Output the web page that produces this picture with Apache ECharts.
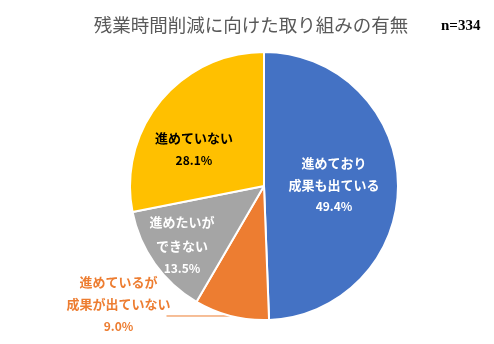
<!DOCTYPE html>
<html>
<head>
<meta charset="utf-8">
<script src="https://cdn.jsdelivr.net/npm/echarts@6/dist/echarts.min.js"></script>
<style>
  html, body { margin: 0; padding: 0; background: #fff; }
  #chart { width: 494px; height: 344px; }
</style>
</head>
<body>
<div id="chart"></div>
<script>
// Survey: whether companies are working on reducing overtime (n=334)
const categories = ['進めており\n成果も出ている', '進めているが\n成果が出ていない', '進めたいが\nできない', '進めていない'];
const shares = [49.4, 9.0, 13.5, 28.1];
const colors = ['#4472C4', '#ED7D31', '#A5A5A5', '#FFC000'];
const titleText = '残業時間削減に向けた取り組みの有無';
const sampleText = 'n=334';

const FONT = '"Noto Sans CJK JP", "Noto Sans", sans-serif';

// label colour and nudge for each slice (inside labels sit a bit off the mid-radius)
const labelColors = ['#ffffff', '#ED7D31', '#ffffff', '#000000'];
const labelNudge = [[0, 0], null, [-25, 18], [-16, 8]];

function fmt(p) {
  const lines = p.name.split('\n').map(s => '{t|' + s + '}');
  lines.push('{p|' + p.value.toFixed(1) + '%}');
  return lines.join('\n');
}

const data = categories.map((name, i) => {
  const item = {
    name: name,
    value: shares[i],
    itemStyle: { color: colors[i] },
    label: {
      color: labelColors[i],
      rich: {
        t: { color: labelColors[i], fontSize: 13, fontWeight: 'bold', fontFamily: FONT, lineHeight: i === 2 ? 24 : 22 },
        p: { color: labelColors[i], fontSize: 12, fontWeight: 'bold', fontFamily: FONT, lineHeight: 22 }
      }
    }
  };
  if (i === 1) {
    item.label.position = 'outside';
    item.label.padding = [0, 0, 24, 0];
    item.label.distanceToLabelLine = -10;
    item.label.rich.t.width = 116;
    item.label.rich.t.align = 'center';
    item.label.rich.p.width = 116;
    item.label.rich.p.align = 'center';
    item.labelLine = { show: true, length: 0, length2: 65, lineStyle: { color: '#ED7D31', width: 1 } };
  }
  return item;
});

const chart = echarts.init(document.getElementById('chart'), null, { renderer: 'canvas' });
chart.setOption({
  animation: false,
  backgroundColor: '#ffffff',
  title: [
    {
      text: titleText,
      left: 246, top: 11, textAlign: 'center',
      textStyle: { fontFamily: FONT, fontSize: 18.5, fontWeight: 'normal', color: '#595959' }
    },
    {
      text: sampleText,
      left: 436, top: 14,
      textStyle: { fontFamily: '"Liberation Serif", serif', fontSize: 15, fontWeight: 'bold', color: '#000000' }
    }
  ],
  series: [{
    type: 'pie',
    center: [264, 186],
    radius: 134,
    startAngle: 90,
    clockwise: true,
    avoidLabelOverlap: false,
    itemStyle: { borderColor: '#ffffff', borderWidth: 2 },
    label: { show: true, position: 'inside', formatter: fmt },
    labelLine: { show: false },
    labelLayout: function (params) {
      const n = labelNudge[params.dataIndex];
      if (!n) return;
      return { dx: n[0], dy: n[1] };
    },
    emphasis: { disabled: true },
    data: data
  }]
});
</script>
</body>
</html>
